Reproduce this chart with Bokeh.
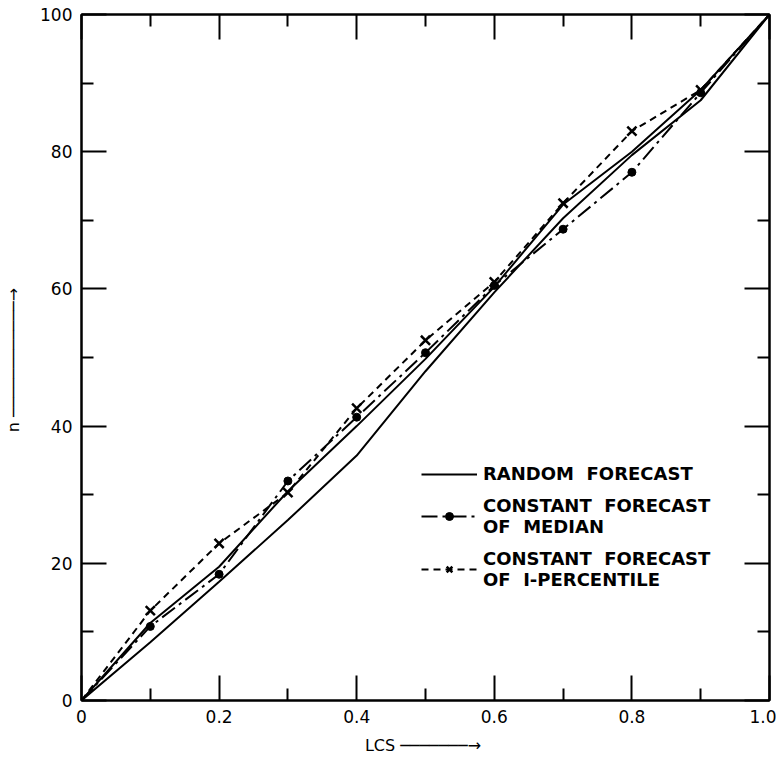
from bokeh.plotting import figure
from bokeh.models import Range1d, LinearAxis, FixedTicker, Legend, LegendItem
from bokeh.embed import file_html
from bokeh.resources import INLINE

# ---- data ----
lcs = [0.0, 0.1, 0.2, 0.3, 0.4, 0.5, 0.6, 0.7, 0.8, 0.9, 1.0]
random_forecast = [0, 8.5, 17.3, 26.3, 35.7, 48.0, 59.5, 70.3, 79.5, 87.5, 100]
second_solid = [0, 11.3, 19.5, 30.5, 40.0, 49.8, 60.3, 72.3, 80.0, 89.0, 100]
median_forecast = [0, 10.8, 18.4, 32.0, 41.3, 50.7, 60.5, 68.7, 77.0, 88.6, 100]
pct1_forecast = [0, 13.1, 22.9, 30.3, 42.6, 52.5, 61.0, 72.5, 83.0, 89.0, 100]

x_ticks = [0.0, 0.2, 0.4, 0.6, 0.8, 1.0]
x_tick_labels = ["0", "0.2", "0.4", "0.6", "0.8", "1.0"]
x_minor = [0.1, 0.3, 0.5, 0.7, 0.9]
y_ticks = [0, 20, 40, 60, 80, 100]
y_tick_labels = ["0", "20", "40", "60", "80", "100"]
y_minor = [10, 30, 50, 70, 90]

x_title = "LCS  \u2500\u2500\u2500\u2500\u2500\u2500\u2500\u2192"
y_title = "n  \u2500\u2500\u2500\u2500\u2500\u2500\u2500\u2500\u2500\u2500\u2500\u2500\u2192"

FONT = "DejaVu Sans"

p = figure(width=776, height=757, output_backend="svg", toolbar_location=None,
           x_range=Range1d(0, 1), y_range=Range1d(0, 100),
           min_border_left=81, min_border_right=7, min_border_top=14,
           min_border_bottom=57)
p.xgrid.visible = False
p.ygrid.visible = False
p.outline_line_color = "black"
p.outline_line_width = 2
p.background_fill_color = "white"
p.border_fill_color = "white"

bottom_ax = p.below[0]
left_ax = p.left[0]


def style_axis(ax, ticks, minor, labels, show_labels):
    ax.ticker = FixedTicker(ticks=ticks, minor_ticks=minor)
    ax.axis_line_color = "black"
    ax.axis_line_width = 2
    ax.major_tick_in = 25
    ax.major_tick_out = 0
    ax.minor_tick_in = 12
    ax.minor_tick_out = 0
    ax.major_tick_line_width = 2
    ax.minor_tick_line_width = 2
    ax.major_tick_line_color = "black"
    ax.minor_tick_line_color = "black"
    ax.major_label_text_font = FONT
    if show_labels:
        ax.major_label_overrides = {t: l for t, l in zip(ticks, labels)}
        ax.major_label_text_font_size = "17px"
        ax.major_label_text_color = "black"
        ax.major_label_standoff = 9
    else:
        ax.major_label_text_font_size = "1px"
        ax.major_label_text_color = None
        ax.major_label_standoff = 0


style_axis(bottom_ax, x_ticks, x_minor, x_tick_labels, True)
style_axis(left_ax, y_ticks, y_minor, y_tick_labels, True)
top_ax = LinearAxis()
right_ax = LinearAxis()
style_axis(top_ax, x_ticks, x_minor, x_tick_labels, False)
style_axis(right_ax, y_ticks, y_minor, y_tick_labels, False)
p.add_layout(top_ax, "above")
p.add_layout(right_ax, "right")

for ax, title, standoff in ((bottom_ax, x_title, 10), (left_ax, y_title, 14)):
    ax.axis_label = title
    ax.axis_label_text_font = FONT
    ax.axis_label_text_font_size = "16px"
    ax.axis_label_text_font_style = "normal"
    ax.axis_label_text_color = "black"
    ax.axis_label_standoff = standoff

# ---- curves ----
r_rand = p.line(lcs, random_forecast, line_color="black", line_width=2)
p.line(lcs, second_solid, line_color="black", line_width=2)
r_med = p.line(lcs, median_forecast, line_color="black", line_width=2,
               line_dash="16 5 3 5")
r_med_pts = p.scatter(lcs[1:-1], median_forecast[1:-1], marker="circle", size=8,
                      fill_color="black", line_color="black")
r_pct = p.line(lcs, pct1_forecast, line_color="black", line_width=2,
               line_dash="7 5")
r_pct_pts = p.scatter(lcs[1:-1], pct1_forecast[1:-1], marker="x", size=13,
                      line_color="black", line_width=2.5)

legend = Legend(items=[
    LegendItem(label="RANDOM  FORECAST", renderers=[r_rand]),
    LegendItem(label="CONSTANT  FORECAST\nOF  MEDIAN", renderers=[r_med, r_med_pts]),
    LegendItem(label="CONSTANT  FORECAST\nOF  I-PERCENTILE", renderers=[r_pct, r_pct_pts]),
], location=(340, 110))
legend.background_fill_alpha = 0
legend.border_line_color = None
legend.label_text_font = FONT
legend.label_text_font_style = "bold"
legend.label_text_font_size = "18px"
legend.label_text_line_height = 1.25
legend.label_text_color = "black"
legend.glyph_width = 56
legend.label_standoff = 6
legend.spacing = 11
legend.padding = 0
p.add_layout(legend)

open("out.html", "w").write(file_html(p, INLINE))
